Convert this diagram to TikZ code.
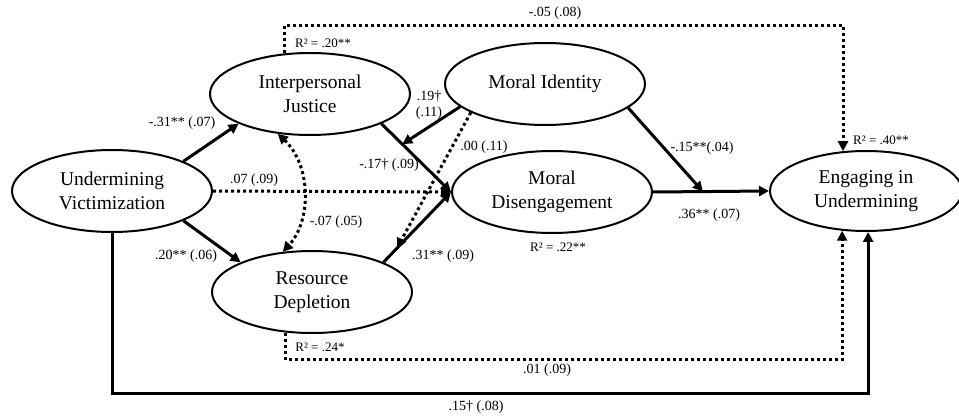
\documentclass[tikz,border=0pt]{standalone}
\usepackage{fontspec}
\setmainfont{Liberation Serif}
\usetikzlibrary{arrows.meta,shapes.geometric}
\begin{document}
\begin{tikzpicture}[x=1pt,y=-1pt,
  latent/.style={ellipse, draw, line width=2pt, minimum width=200pt, minimum height=82pt, inner sep=0pt, align=center, font=\fontsize{19.5}{24}\selectfont},
  tipA/.tip={Triangle[length=10pt,width=10pt]},
  sig/.style={line width=3pt, -tipA},
  nsig/.style={line width=3pt, dash pattern=on 3pt off 3pt, -tipA},
  coef/.style={font=\fontsize{14}{16}\selectfont, inner sep=1pt},
  rsq/.style={font=\fontsize{13}{15}\selectfont, inner sep=1pt}]
\useasboundingbox (0,0) rectangle (959,417);

% latent variables
\node[latent] (uv) at (112,191) {Undermining\\Victimization};
\node[latent] (ij) at (310,94) {Interpersonal\\Justice};
\node[latent] (mi) at (545,84) {Moral Identity};
\node[latent] (md) at (552,192) {Moral\\Disengagement};
\node[latent] (rd) at (312,292) {Resource\\Depletion};
\node[latent, minimum width=192pt, minimum height=80pt] (eu) at (866,191) {Engaging in\\Undermining};

% direct paths
\draw[sig] (uv.north east) -- (ij.south west);
\draw[sig] (uv.south east) -- (rd.north west);
\draw[nsig] (uv.east) -- (md.west);
\draw[sig] (ij.south east) -- coordinate[pos=0.3] (m1) (md.west);
\draw[sig] (rd.north east) -- coordinate[pos=0.2] (m2) (md.west);
\draw[sig] (md.east) -- coordinate[pos=0.43] (m3) (eu.west);

% moderation paths
\draw[sig] (mi.195) -- (m1);
\draw[nsig] (mi.201) -- (m2);
\draw[sig] (mi.-16) -- (m3);

% covariance
\draw[nsig, tipA-tipA] (ij.231.5) .. controls (311,165) and (312,220) .. (rd.126.5);

% long paths
\draw[nsig] (ij.122) -- ++(0,-28) -| (eu.120.7);
\draw[nsig] (rd.237) -- ++(0,27) -| (eu.239.3);
\draw[sig] (uv.south) -- ++(0,160) -| (eu.-87);

% coefficients
\node[coef] (c1) at (555,13) {-.05 (.08)};
\node[coef] (c2) at (182,123) {-.31** (.07)};
\node[coef] (c3) at (254,180) {.07 (.09)};
\node[coef] (c4) at (186,256) {.20** (.06)};
\node[coef] (c5) at (336,222) {-.07 (.05)};
\node[coef, align=center, font=\fontsize{14}{16}\selectfont] (c6) at (429,105) {.19†\\(.11)};
\node[coef] (c7) at (484,147) {.00 (.11)};
\node[coef] (c8) at (389,165) {-.17† (.09)};
\node[coef] (c9) at (443,256) {.31** (.09)};
\node[coef] (c10) at (702,148) {-.15**(.04)};
\node[coef] (c11) at (709,215) {.36** (.07)};
\node[coef] (c12) at (547,370) {.01 (.09)};
\node[coef] (c13) at (476,407) {.15† (.08)};

% R squared
\node[rsq] (r1) at (323,43) {R² = .20**};
\node[rsq] (r2) at (558,247) {R² = .22**};
\node[rsq] (r3) at (881,140) {R² = .40**};
\node[rsq] (r4) at (320,347) {R² = .24*};
\end{tikzpicture}
\end{document}
